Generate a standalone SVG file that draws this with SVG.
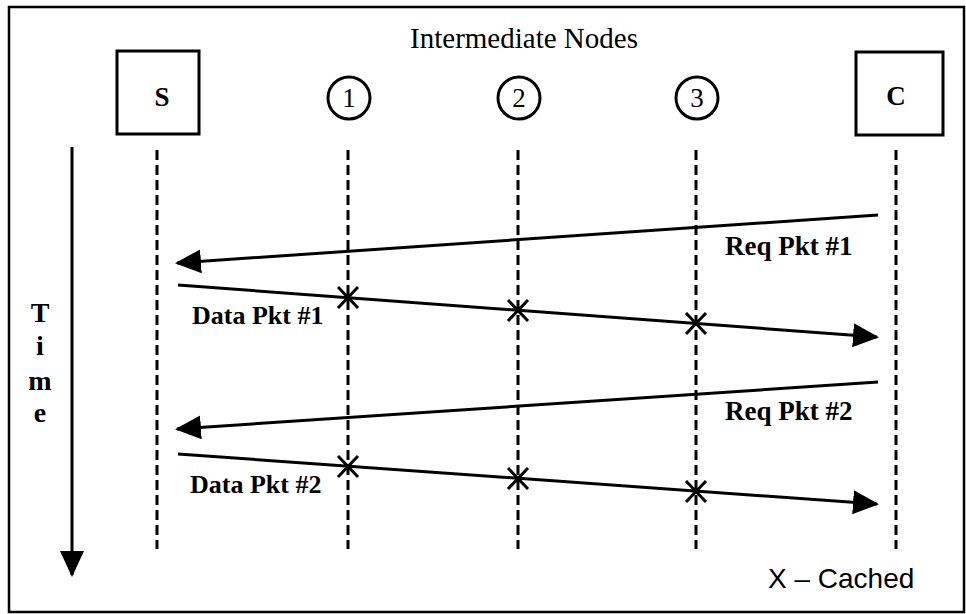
<svg xmlns="http://www.w3.org/2000/svg" width="966" height="614" viewBox="0 0 966 614">
<style>
.box{fill:none;stroke:#000;stroke-width:3}
.life{stroke:#000;stroke-width:3;stroke-dasharray:10 5;fill:none}
.msg{stroke:#000;stroke-width:3;fill:none}
.x{stroke:#000;stroke-width:3;fill:none}
.serif{font-family:"Liberation Serif","Times New Roman",serif;fill:#000}
.b{font-weight:bold}
.sans{font-family:"Liberation Sans",Arial,sans-serif;fill:#000}
</style>
<defs>
<marker id="ah" markerUnits="userSpaceOnUse" markerWidth="26" markerHeight="24" refX="24" refY="12" orient="auto">
<path d="M0,0 L26,12 L0,24 Z" fill="#000"/>
</marker>
</defs>
<rect x="0" y="0" width="966" height="614" fill="#fff"/>
<rect x="9" y="7" width="955" height="605" fill="none" stroke="#000" stroke-width="2.5"/>
<text class="serif" x="524" y="48" font-size="29" text-anchor="middle">Intermediate Nodes</text>
<g id="node-S">
<rect class="box" x="117" y="51" width="82" height="83"/>
<text class="serif b" x="162" y="106" font-size="27" text-anchor="middle">S</text>
</g>
<g id="node-1">
<circle class="box" cx="349" cy="98" r="21"/>
<text class="serif" x="349" y="107" font-size="27" text-anchor="middle">1</text>
</g>
<g id="node-2">
<circle class="box" cx="519" cy="98" r="21"/>
<text class="serif" x="519" y="107" font-size="27" text-anchor="middle">2</text>
</g>
<g id="node-3">
<circle class="box" cx="697" cy="98" r="21"/>
<text class="serif" x="697" y="107" font-size="27" text-anchor="middle">3</text>
</g>
<g id="node-C">
<rect class="box" x="856" y="52" width="87" height="83"/>
<text class="serif b" x="896" y="105" font-size="27" text-anchor="middle">C</text>
</g>
<g id="lifelines">
<line class="life" x1="157" y1="150" x2="157" y2="549"/>
<line class="life" x1="348" y1="150" x2="348" y2="549"/>
<line class="life" x1="518" y1="150" x2="518" y2="549"/>
<line class="life" x1="696" y1="150" x2="696" y2="549"/>
<line class="life" x1="896" y1="150" x2="896" y2="549"/>
</g>
<g id="time-axis">
<line class="msg" x1="72" y1="147" x2="72" y2="575" marker-end="url(#ah)"/>
<text class="serif b" x="40" y="322" font-size="28" text-anchor="middle">T</text>
<text class="serif b" x="40" y="355" font-size="28" text-anchor="middle">i</text>
<text class="serif b" x="40" y="390" font-size="28" text-anchor="middle">m</text>
<text class="serif b" x="40" y="422" font-size="28" text-anchor="middle">e</text>
</g>
<g id="connectors">
<line class="msg" x1="878" y1="215" x2="177" y2="263" marker-end="url(#ah)"/>
<line class="msg" x1="178" y1="285" x2="877" y2="337" marker-end="url(#ah)"/>
<line class="msg" x1="878" y1="382" x2="177" y2="429" marker-end="url(#ah)"/>
<line class="msg" x1="178" y1="454" x2="877" y2="504" marker-end="url(#ah)"/>
</g>
<g id="cache-marks">
<path class="x" d="M338,287 L358,308 M358,287 L338,308"/>
<path class="x" d="M508,300 L528,321 M528,300 L508,321"/>
<path class="x" d="M686,313 L706,334 M706,313 L686,334"/>
<path class="x" d="M338,456 L358,477 M358,456 L338,477"/>
<path class="x" d="M508,468 L528,489 M528,468 L508,489"/>
<path class="x" d="M686,481 L706,502 M706,481 L686,502"/>
</g>
<g id="labels">
<text class="serif b" x="725" y="255" font-size="27">Req Pkt #1</text>
<text class="serif b" x="192" y="324" font-size="26">Data Pkt #1</text>
<text class="serif b" x="725" y="420" font-size="27">Req Pkt #2</text>
<text class="serif b" x="190" y="493" font-size="26">Data Pkt #2</text>
<text class="sans" x="768" y="588" font-size="28">X – Cached</text>
</g>
</svg>
